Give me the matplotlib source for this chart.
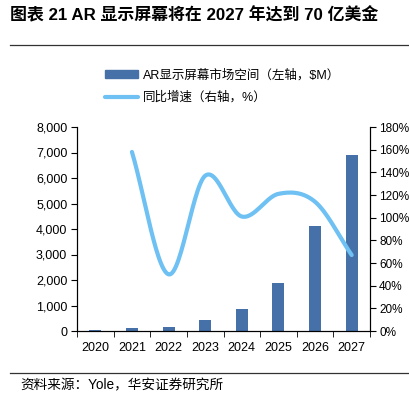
import numpy as np
import matplotlib
matplotlib.use("Agg")
import matplotlib.pyplot as plt
from matplotlib.lines import Line2D
from matplotlib.patches import Patch
from matplotlib.ticker import FuncFormatter, FixedLocator

FAM = ['Liberation Sans', 'Noto Sans CJK SC', 'DejaVu Sans']
plt.rcParams['font.family'] = FAM

years = ['2020', '2021', '2022', '2023', '2024', '2025', '2026', '2027']
market = [20, 100, 170, 430, 850, 1900, 4100, 6900]
growth_years = ['2021', '2022', '2023', '2024', '2025', '2026', '2027']
growth = [158, 50, 137, 101, 121, 114, 67]

bar_color = '#4570A8'
line_color = '#6EC1F2'

fig = plt.figure(figsize=(4.09, 3.95), dpi=100)
ax = fig.add_axes([77/409, 1-331/395, (370-77)/409, (331-127)/395])
ax2 = ax.twinx()

x = np.arange(len(years))
ax.bar(x, market, width=0.33, color=bar_color, zorder=2)

# smooth line (Catmull-Rom through points, like Excel smoothed line)
gx = np.array([years.index(y) for y in growth_years], dtype=float)
gy = np.array(growth, dtype=float)
def catmull(px, py, n=30):
    P = np.column_stack([px, py])
    P = np.vstack([P[0] - (P[1]-P[0]), P, P[-1] + (P[-1]-P[-2])])
    out = []
    for i in range(1, len(P)-2):
        p0, p1, p2, p3 = P[i-1], P[i], P[i+1], P[i+2]
        t = np.linspace(0, 1, n)[:, None]
        c1 = p1 + (p2 - p0)/6
        c2 = p2 - (p3 - p1)/6
        seg = (1-t)**3*p1 + 3*(1-t)**2*t*c1 + 3*(1-t)*t**2*c2 + t**3*p2
        out.append(seg if i == 1 else seg[1:])
    return np.vstack(out)
curve = catmull(gx, gy)
ax2.plot(curve[:, 0], curve[:, 1], color=line_color, lw=3, solid_capstyle='round', zorder=3)

ax.set_xlim(-0.5, len(years)-0.5)
ax.set_ylim(0, 8000)
ax2.set_ylim(0, 180)
ax.set_yticks(np.arange(0, 8001, 1000))
ax.yaxis.set_major_formatter(FuncFormatter(lambda v, p: f'{int(v):,}'))
ax2.set_yticks(np.arange(0, 181, 20))
ax2.yaxis.set_major_formatter(FuncFormatter(lambda v, p: f'{int(v)}%'))
ax.set_xticks(x)
ax.set_xticklabels(years)
ax.tick_params(axis='x', which='major', length=0, pad=8, labelsize=9, colors='#000000')
ax.xaxis.set_minor_locator(FixedLocator(np.arange(-0.5, len(years), 1)))
ax.tick_params(axis='x', which='minor', length=4, direction='out', color='#000000')
ax.tick_params(axis='y', length=4, direction='out', labelsize=9, pad=3)
ax2.tick_params(axis='y', length=4, direction='out', labelsize=8.5, pad=2.5)

for a in (ax, ax2):
    a.spines['top'].set_visible(False)
    for s in ('left', 'right', 'bottom'):
        a.spines[s].set_color('#000000')
        a.spines[s].set_linewidth(0.8)

handles = [Patch(color=bar_color), Line2D([0], [0], color=line_color, lw=3, solid_capstyle='round')]
labels = ['AR显示屏幕市场空间（左轴，$M）', '同比增速（右轴，%）']
fig.legend(handles, labels, loc='upper left', bbox_to_anchor=(100/409, 1-64/395),
           frameon=False, fontsize=9, handlelength=2.6, handleheight=0.6,
           labelspacing=0.8, handletextpad=0.4, borderaxespad=0)

fig.text(10/409, 1-15/395, '图表 21 AR 显示屏幕将在 2027 年达到 70 亿美金', fontsize=12.2,
         fontweight='bold', va='center', ha='left')
fig.add_artist(Line2D([10/409, 1.0], [1-45/395, 1-45/395], color='#333333', lw=0.9))
fig.add_artist(Line2D([10/409, 1.0], [1-373/395, 1-373/395], color='#333333', lw=0.9))
fig.text(20/409, 1-385/395, '资料来源：Yole，华安证券研究所', fontsize=9.8, va='center', ha='left')

fig.savefig('out.png', dpi=100)
